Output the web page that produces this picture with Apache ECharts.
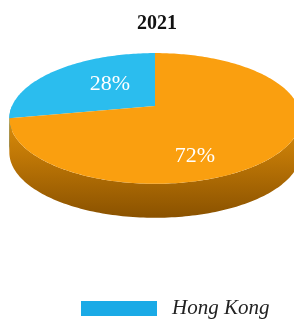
<!DOCTYPE html>
<html>
<head>
<meta charset="utf-8">
<script src="https://cdn.jsdelivr.net/npm/echarts@6/dist/echarts.min.js"></script>
<style>
  html, body { margin: 0; padding: 0; background: #fff; }
  #chart { width: 294px; height: 322px; }
</style>
</head>
<body>
<div id="chart"></div>
<script>
var chartTitle = '2021';
var categories = ['Hong Kong', 'Other'];
var values = [28, 72];
var legendNames = ['Hong Kong'];

(function() {
  var topColors = ['#2bbdee', '#fa9f0f'];
  var sideColors = [
    ['#22a6d4', '#1b8fb8', '#126f92'],
    ['#e3940b', '#bf7706', '#8a5200']
  ];
  var labelFont = '22px "Liberation Serif", serif';
  // projected disk: centre, radii, perspective, thickness
  var cx = 155, cy = 106, A = 143, B = 63, P = 0.19, depth = 34;
  // label spot per slice: radius fraction, angle shift (deg)
  var labelSpot = [[0.5, -8], [0.73, -31]];

  var total = values.reduce(function(s, v) { return s + v; }, 0);

  function proj(theta, r, dy) {
    var X = r * Math.cos(theta), Z = r * Math.sin(theta);
    var w = 1 + P * Z;
    return [cx + A * X / w, cy - B * Z / w + (dy || 0)];
  }
  function arc(a0, a1, dy) {
    var pts = [], n = Math.max(2, Math.ceil(Math.abs(a1 - a0) / 0.02));
    for (var k = 0; k <= n; k++) pts.push(proj(a0 + (a1 - a0) * k / n, 1, dy));
    return pts;
  }

  function makeRender(idx) {
    return function(params, api) {
      var before = 0;
      for (var j = 0; j < idx; j++) before += values[j];
      var v = api.value(0);
      var a0 = Math.PI / 2 + 2 * Math.PI * before / total;
      var a1 = a0 + 2 * Math.PI * v / total;
      var children = [];

      // front side wall (lower half of the disk)
      for (var k = -1; k <= 1; k++) {
        var s = Math.max(a0, Math.PI + 2 * Math.PI * k);
        var e = Math.min(a1, 2 * Math.PI + 2 * Math.PI * k);
        if (e > s) {
          var pts = arc(s, e, 0).concat(arc(e, s, depth));
          children.push({
            type: 'polygon', z2: 1,
            shape: { points: pts },
            style: {
              fill: new echarts.graphic.LinearGradient(0, 0, 0, 1, [
                { offset: 0, color: sideColors[idx][0] },
                { offset: 0.45, color: sideColors[idx][1] },
                { offset: 1, color: sideColors[idx][2] }
              ])
            }
          });
        }
      }

      // top face
      children.push({
        type: 'polygon', z2: 5,
        shape: { points: [proj(0, 0)].concat(arc(a0, a1, 0)) },
        style: { fill: topColors[idx] }
      });

      // percent label
      var mid = (a0 + a1) / 2 + labelSpot[idx][1] * Math.PI / 180;
      var lp = proj(mid, labelSpot[idx][0]);
      children.push({
        type: 'text', z2: 10,
        x: lp[0], y: lp[1],
        style: {
          text: Math.round(v / total * 100) + '%',
          fill: '#ffffff',
          font: labelFont,
          align: 'center',
          verticalAlign: 'middle'
        }
      });
      return { type: 'group', children: children };
    };
  }

  var chart = echarts.init(document.getElementById('chart'), null, { renderer: 'canvas' });
  chart.setOption({
    animation: false,
    title: {
      text: chartTitle,
      left: 132,
      top: 9,
      textStyle: { fontFamily: '"Liberation Serif", serif', fontWeight: 'bold', fontSize: 20, color: '#111' }
    },
    legend: {
      data: legendNames.map(function(n) {
        return { name: n, icon: 'rect', itemStyle: { color: '#1aaae6' } };
      }),
      left: 76,
      top: 293,
      itemWidth: 76,
      itemHeight: 15,
      selectedMode: false,
      textStyle: {
        fontFamily: '"Liberation Serif", serif',
        fontStyle: 'italic',
        fontSize: 21,
        color: '#222',
        padding: [0, 0, 0, 10]
      }
    },
    series: categories.map(function(name, i) {
      return {
        type: 'custom',
        name: name,
        coordinateSystem: 'none',
        itemStyle: { color: topColors[i] },
        data: [values[i]],
        renderItem: makeRender(i)
      };
    })
  });
})();
</script>
</body>
</html>
